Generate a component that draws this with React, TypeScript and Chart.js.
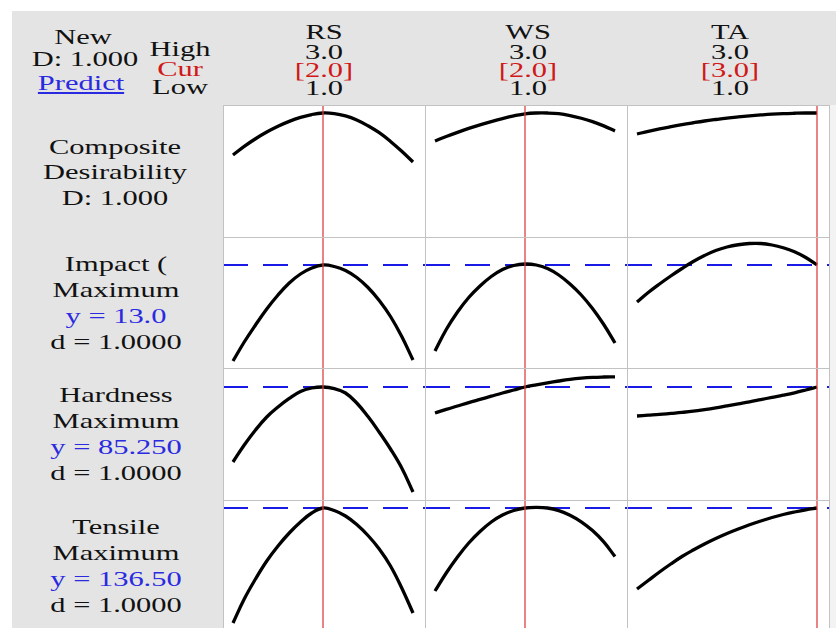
import React, { useEffect, useRef } from "react";
import { Chart, registerables } from "chart.js";

Chart.register(...registerables);

// ---------- data ----------
const xGrid = [1, 1.125, 1.25, 1.375, 1.5, 1.625, 1.75, 1.875, 2, 2.125, 2.25, 2.375, 2.5, 2.625, 2.75, 2.875, 3];

const factorNames = ["RS", "WS", "TA"];
const factorHigh = ["3.0", "3.0", "3.0"];
const factorCur = [2.0, 2.0, 3.0];
const factorLow = ["1.0", "1.0", "1.0"];

const responseNames = ["Impact (", "Hardness", "Tensile"];
const responseGoals = ["Maximum", "Maximum", "Maximum"];
const responseY = [13.0, 85.25, 136.5];
const responseYText = ["y = 13.0", "y = 85.250", "y = 136.50"];
const responseD = ["d = 1.0000", "d = 1.0000", "d = 1.0000"];

const desRS = [0.638, 0.712, 0.778, 0.836, 0.886, 0.928, 0.962, 0.987, 1.0, 0.995, 0.975, 0.94, 0.89, 0.83, 0.755, 0.67, 0.578];
const desWS = [0.759, 0.797, 0.833, 0.867, 0.898, 0.926, 0.952, 0.975, 0.993, 1.0, 1.0, 0.994, 0.978, 0.955, 0.926, 0.889, 0.845];
const desTA = [0.819, 0.842, 0.863, 0.882, 0.9, 0.916, 0.931, 0.944, 0.956, 0.966, 0.975, 0.983, 0.99, 0.995, 0.998, 1.0, 1.0];

const impRS = [9.16, 9.92, 10.6, 11.24, 11.8, 12.28, 12.64, 12.88, 13.0, 12.94, 12.78, 12.5, 12.1, 11.58, 10.94, 10.14, 9.2];
const impWS = [9.56, 10.42, 11.12, 11.7, 12.16, 12.54, 12.82, 12.98, 13.04, 13.0, 12.86, 12.6, 12.24, 11.8, 11.26, 10.62, 9.88];
const impTA = [11.52, 11.9, 12.24, 12.56, 12.86, 13.14, 13.38, 13.58, 13.72, 13.81, 13.86, 13.86, 13.8, 13.69, 13.53, 13.3, 13.0];

const hardRS = [81.5, 82.35, 83.1, 83.75, 84.25, 84.68, 85.03, 85.2, 85.25, 85.17, 84.95, 84.45, 83.77, 82.99, 82.15, 81.2, 80.0];
const hardWS = [83.95, 84.13, 84.3, 84.47, 84.63, 84.79, 84.95, 85.1, 85.25, 85.36, 85.46, 85.55, 85.63, 85.69, 85.73, 85.75, 85.76];
const hardTA = [83.8, 83.84, 83.88, 83.93, 83.98, 84.04, 84.12, 84.21, 84.31, 84.41, 84.51, 84.62, 84.73, 84.84, 84.96, 85.1, 85.25];

const tensRS = [125.0, 127.4, 129.4, 131.2, 132.7, 134.0, 135.1, 136.0, 136.5, 136.25, 135.7, 134.85, 133.75, 132.4, 130.7, 128.5, 126.0];
const tensWS = [128.2, 130.0, 131.6, 133.0, 134.15, 135.1, 135.8, 136.25, 136.5, 136.56, 136.5, 136.24, 135.78, 135.12, 134.24, 133.11, 131.64];
const tensTA = [128.4, 129.25, 130.1, 130.9, 131.65, 132.3, 132.9, 133.45, 133.95, 134.4, 134.82, 135.2, 135.55, 135.85, 136.1, 136.32, 136.5];

const rowSeries = [
  [desRS, desWS, desTA],
  [impRS, impWS, impTA],
  [hardRS, hardWS, hardTA],
  [tensRS, tensWS, tensTA],
];
const rowYMin = [-0.069, 8.88, 79.6, 124.1];
const rowYMax = [1.069, 14.12, 86.2, 137.3];
const xMin = 0.8889;
const xMax = 3.1333;

// ---------- layout ----------
const COL_LEFT = [223, 425, 627];
const COL_W = 202;
const ROW_TOP = [105, 237, 368, 500];
const ROW_H = [132, 131, 132, 132];

const FONT = '"Liberation Serif", "Times New Roman", serif';
const FS = 21;
const SX = 1.45;
const BLUE = "#2a2ae0";
const RED = "#d01818";

function Cell({ left, top, width, height, ys, cur, target, yMin, yMax }: any) {
  const ref = useRef<HTMLCanvasElement>(null);
  useEffect(() => {
    const datasets: any[] = [
      {
        data: xGrid.map((x, i) => ({ x, y: ys[i] })),
        borderColor: "#000000",
        borderWidth: 3.3,
        pointRadius: 0,
        tension: 0.4,
        order: 2,
      },
      {
        data: [
          { x: cur, y: yMin },
          { x: cur, y: yMax },
        ],
        borderColor: "rgba(222,60,60,0.85)",
        borderWidth: 1.5,
        pointRadius: 0,
        order: 1,
      },
    ];
    if (target !== null && target !== undefined) {
      datasets.push({
        data: [
          { x: xMin, y: target },
          { x: xMax, y: target },
        ],
        borderColor: "#1a1ae6",
        borderWidth: 2,
        borderDash: [25, 15],
        pointRadius: 0,
        order: 3,
      });
    }
    const chart = new Chart(ref.current!, {
      type: "line",
      data: { datasets },
      options: {
        animation: false,
        responsive: false,
        events: [],
        layout: { padding: 0 },
        plugins: { legend: { display: false }, tooltip: { enabled: false } },
        scales: {
          x: { type: "linear", min: xMin, max: xMax, display: false },
          y: { type: "linear", min: yMin, max: yMax, display: false },
        },
      },
    });
    return () => chart.destroy();
  }, []);
  return (
    <canvas
      ref={ref}
      width={width}
      height={height}
      style={{ position: "absolute", left, top, width, height, display: "block" }}
    />
  );
}

function Txt({ x, b, text, color = "#111", underline = false }: any) {
  return (
    <div
      style={{
        position: "absolute",
        left: x,
        top: b - 17.6,
        font: `${FS}px ${FONT}`,
        lineHeight: `${FS}px`,
        color,
        whiteSpace: "nowrap",
        textDecoration: underline ? "underline" : "none",
        transform: `translateX(-50%) scaleX(${SX})`,
      }}
    >
      {text}
    </div>
  );
}

export default function App() {
  const lines: any[] = [];
  const gridColor = "#c2c2c2";
  [223, 425, 627, 829].forEach((x, i) =>
    lines.push(
      <div key={"v" + i} style={{ position: "absolute", left: x, top: 105, width: 1, height: 530, background: gridColor }} />
    )
  );
  [105, 237, 368, 500].forEach((y, i) =>
    lines.push(
      <div key={"h" + i} style={{ position: "absolute", left: 223, top: y, width: 607, height: 1, background: gridColor }} />
    )
  );

  const cells: any[] = [];
  for (let r = 0; r < 4; r++) {
    for (let c = 0; c < 3; c++) {
      cells.push(
        <Cell
          key={`c${r}${c}`}
          left={COL_LEFT[c]}
          top={ROW_TOP[r]}
          width={COL_W}
          height={ROW_H[r]}
          ys={rowSeries[r][c]}
          cur={factorCur[c]}
          target={r === 0 ? null : responseY[r - 1]}
          yMin={rowYMin[r]}
          yMax={rowYMax[r]}
        />
      );
    }
  }

  const colCenters = [324, 528, 730];
  const headers: any[] = [];
  factorNames.forEach((n, c) => {
    const cx = colCenters[c];
    headers.push(<Txt key={"fn" + c} x={cx} b={40} text={n} />);
    headers.push(<Txt key={"fh" + c} x={cx} b={60} text={factorHigh[c]} />);
    headers.push(<Txt key={"fc" + c} x={cx} b={78} text={`[${factorCur[c].toFixed(1)}]`} color={RED} />);
    headers.push(<Txt key={"fl" + c} x={cx} b={96} text={factorLow[c]} />);
  });

  const rowLabels: any[] = [];
  rowLabels.push(<Txt key="rl0a" x={115} b={155} text="Composite" />);
  rowLabels.push(<Txt key="rl0b" x={115} b={180} text="Desirability" />);
  rowLabels.push(<Txt key="rl0c" x={115} b={206} text="D: 1.000" />);
  const rowBase = [272, 403, 535];
  responseNames.forEach((n, i) => {
    const b0 = rowBase[i];
    rowLabels.push(<Txt key={"rn" + i} x={116} b={b0} text={n} />);
    rowLabels.push(<Txt key={"rg" + i} x={116} b={b0 + 26} text={responseGoals[i]} />);
    rowLabels.push(<Txt key={"ry" + i} x={116} b={b0 + 52} text={responseYText[i]} color={BLUE} />);
    rowLabels.push(<Txt key={"rd" + i} x={116} b={b0 + 78} text={responseD[i]} />);
  });

  return (
    <div
      style={{
        position: "absolute",
        left: 0,
        top: 0,
        width: 836,
        height: 628,
        overflow: "hidden",
        background: "#ffffff",
      }}
    >
      <div style={{ position: "absolute", left: 12, top: 11, width: 824, height: 617, background: "#e4e4e4" }} />
      <div style={{ position: "absolute", left: 829, top: 105, width: 7, height: 523, background: "#f3f3f3" }} />
      <div style={{ position: "absolute", left: 223, top: 105, width: 606, height: 523, background: "#ffffff" }} />
      {cells}
      {lines}
      <Txt x={83} b={45} text="New" />
      <Txt x={85} b={67} text="D: 1.000" />
      <Txt x={81} b={91} text="Predict" color={BLUE} underline />
      <Txt x={180} b={57} text="High" />
      <Txt x={180} b={77} text="Cur" color={RED} />
      <Txt x={180} b={95} text="Low" />
      {headers}
      {rowLabels}
    </div>
  );
}
